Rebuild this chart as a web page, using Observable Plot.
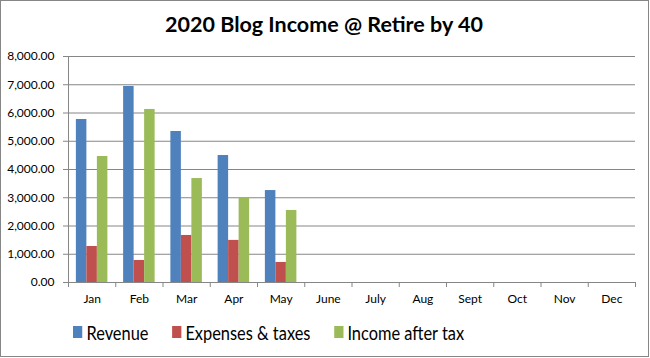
<!DOCTYPE html>
<html>
<head>
<meta charset="utf-8">
<script src="https://cdn.jsdelivr.net/npm/d3@7"></script>
<script src="https://cdn.jsdelivr.net/npm/@observablehq/plot@0.6"></script>
<style>
  html, body { margin: 0; padding: 0; background: #fff; }
  #wrap { position: relative; width: 650px; height: 358px; overflow: hidden; font-family: Lato, "Open Sans", sans-serif; }
  #border { position: absolute; left: 0; top: 0; width: 649px; height: 357px; box-sizing: border-box; border: 1px solid #868686; pointer-events: none; }
  #title { position: absolute; left: 0; top: 9px; width: 648px; text-align: center; font-weight: bold; font-size: 21.5px; line-height: 30px; color: #000; }
  #chart { position: absolute; left: 0; top: 42px; }
  #legend { position: absolute; left: 73px; top: 319px; height: 26px; display: flex; align-items: center; font-size: 19.5px; color: #000; transform: scaleX(0.84); transform-origin: 0 50%; white-space: nowrap; }
  .item { display: flex; align-items: center; margin-right: 28px; }
  .sw { width: 11px; height: 12px; margin-right: 5px; }
</style>
</head>
<body>
<div id="wrap">
  <div id="title">2020 Blog Income @ Retire by 40</div>
  <div id="chart"></div>
  <div id="legend"></div>
  <div id="border"></div>
</div>
<script>
const months = ["Jan", "Feb", "Mar", "Apr", "May", "June", "July", "Aug", "Sept", "Oct", "Nov", "Dec"];
const series = ["Revenue", "Expenses & taxes", "Income after tax"];
const revenue = [5770, 6940, 5345, 4495, 3255];
const expenses = [1275, 780, 1665, 1490, 710];
const incomeAfterTax = [4460, 6125, 3680, 3000, 2550];
const colors = ["#4F81BD", "#C0504D", "#9BBB59"];
const yTicks = [0, 1000, 2000, 3000, 4000, 5000, 6000, 7000, 8000];

const values = [revenue, expenses, incomeAfterTax];
const data = [];
values.forEach((arr, si) => arr.forEach((v, mi) => data.push({month: months[mi], mi, series: series[si], si, value: v})));

// Excel-style clustered layout: gap width 150% of a bar => group takes 2/3 of each category step
const outer = 1 / 6, barW = 2 / 9;

const chart = Plot.plot({
  width: 650,
  height: 273,
  marginTop: 14,
  marginBottom: 33,
  marginLeft: 68,
  marginRight: 15,
  style: {fontFamily: "Lato, 'Open Sans', sans-serif", fontSize: "12px", background: "transparent", color: "#000"},
  x: {type: "linear", domain: [0, 12]},
  y: {domain: [0, 8000]},
  color: {domain: series, range: colors},
  marks: [
    Plot.ruleY(yTicks.filter(d => d > 0), {stroke: "#868686", strokeWidth: 1}),
    Plot.rectY(data, {
      x1: d => d.mi + outer + d.si * barW,
      x2: d => d.mi + outer + (d.si + 1) * barW,
      y: "value",
      fill: "series"
    }),
    Plot.ruleX([0], {stroke: "#868686"}),
    Plot.ruleY([0], {stroke: "#868686"}),
    Plot.axisY(yTicks, {tickSize: 5, tickPadding: 9, stroke: "#868686", fill: "#000", tickFormat: d3.format(",.2f"), fontSize: 12, label: null}),
    Plot.axisX(d3.range(13), {tickSize: 5, stroke: "#868686", tickFormat: () => "", label: null}),
    Plot.axisX(months.map((m, i) => i + 0.5), {tickSize: 0, tickPadding: 12, fill: "#000", tickFormat: d => months[Math.floor(d)], fontSize: 12, label: null})
  ]
});
document.getElementById("chart").appendChild(chart);

const legend = document.getElementById("legend");
series.forEach((s, i) => {
  const it = document.createElement("div");
  it.className = "item";
  const sw = document.createElement("div");
  sw.className = "sw";
  sw.style.background = colors[i];
  const t = document.createElement("span");
  t.textContent = s;
  it.appendChild(sw);
  it.appendChild(t);
  legend.appendChild(it);
});
</script>
</body>
</html>
